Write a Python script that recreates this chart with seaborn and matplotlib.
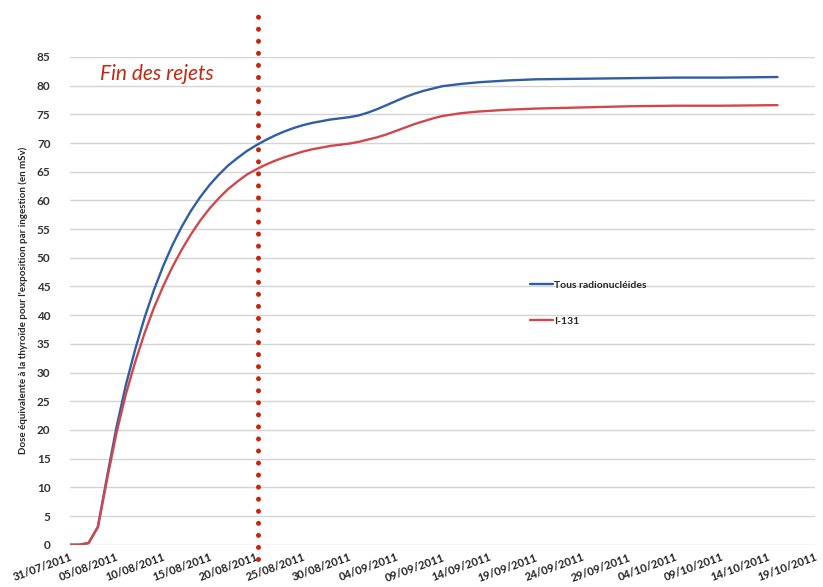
import pandas as pd
import matplotlib.pyplot as plt
import matplotlib.dates as mdates
import numpy as np
import seaborn as sns

# donnees (jours depuis le 31/07/2011)
jours = list(range(0, 41)) + [42, 44, 47, 50, 55, 60, 65, 70, 76]
dose_tous = [0, 0, 0.3, 3.1, 12, 20.5, 27.8, 34, 39.5, 44.3, 48.5, 52.2, 55.4,
             58.2, 60.6, 62.7, 64.5, 66.1, 67.4, 68.6, 69.6, 70.5, 71.3, 72.0,
             72.6, 73.1, 73.5, 73.8, 74.1, 74.3, 74.5, 74.8, 75.3, 75.9, 76.6,
             77.3, 78.0, 78.6, 79.1, 79.5, 79.9, 80.3, 80.6, 80.9, 81.1, 81.2,
             81.3, 81.4, 81.4, 81.5]
dose_i131 = [0, 0, 0.3, 3.1, 11.5, 19.5, 26.2, 31.8, 36.8, 41.2, 45.0, 48.4,
             51.4, 54.1, 56.5, 58.6, 60.4, 62.0, 63.3, 64.5, 65.4, 66.2, 66.9,
             67.5, 68.0, 68.5, 68.9, 69.2, 69.5, 69.7, 69.9, 70.2, 70.6, 71.0,
             71.5, 72.1, 72.7, 73.3, 73.8, 74.3, 74.7, 75.2, 75.5, 75.8, 76.0,
             76.2, 76.4, 76.5, 76.5, 76.6]
series = ["Tous radionucléides", "I-131"]
couleurs = ["#2f5ea6", "#d2474b"]
debut = "2011-07-31"
fin = "2011-10-19"
fin_rejets = "2011-08-20 06:00"

dates = pd.to_datetime(debut) + pd.to_timedelta(jours, unit="D")
df = pd.concat([
    pd.DataFrame({"date": dates, "dose": dose_tous, "serie": series[0]}),
    pd.DataFrame({"date": dates, "dose": dose_i131, "serie": series[1]}),
])

sns.set_style("white")
plt.rcParams['font.family'] = ['Lato', 'DejaVu Sans']

fig = plt.figure(figsize=(8.23, 5.87), dpi=100)
ax = fig.add_axes([0.085, 0.072, 0.905, 0.831])

sns.lineplot(data=df, x="date", y="dose", hue="serie", palette=couleurs,
             hue_order=series, ax=ax, linewidth=1.7)

ax.set_ylim(0, 85)
ax.set_yticks(np.arange(0, 90, 5))
ax.set_xlim(pd.to_datetime(debut), pd.to_datetime(fin))
ax.set_xticks(pd.date_range(debut, fin, freq="5D"))
ax.xaxis.set_major_formatter(mdates.DateFormatter("%d/%m/%Y"))
ax.grid(axis="y", color="#d4d4d4", linewidth=1)
for s in ax.spines.values():
    s.set_visible(False)
ax.tick_params(axis="x", length=3, color="#dddddd", labelsize=8, pad=2)
ax.tick_params(axis="y", length=0, labelsize=8.5, labelcolor="#333333", pad=14)
for lab in ax.get_xticklabels():
    lab.set_rotation(20)
    lab.set_ha("right")
    lab.set_rotation_mode("anchor")
    lab.set_fontweight("bold")
    lab.set_color("#222222")
for lab in ax.get_yticklabels():
    lab.set_fontweight("bold")

ax.set_xlabel("")
ax.set_ylabel("Dose équivalente à la thyroïde pour l'exposition par ingestion (en mSv)",
              fontsize=7, fontweight="bold", labelpad=6)

# ligne de fin des rejets
ax.axvline(pd.to_datetime(fin_rejets), ymin=-0.03, ymax=1.09, clip_on=False,
           color="#c8250f", linewidth=3.6, linestyle=(0, (0.01, 2.4)),
           dash_capstyle="round")
ax.text(0.04, 0.965, "Fin des rejets", transform=ax.transAxes, color="#c8250f",
        fontsize=15, fontstyle="italic", va="center", ha="left")

ax.legend(loc="center left", bbox_to_anchor=(0.605, 0.495), frameon=False,
          prop={"size": 7.5, "weight": "bold"}, labelspacing=2.6,
          handlelength=2.2, handletextpad=0.1)

plt.savefig("out.png", dpi=100)
